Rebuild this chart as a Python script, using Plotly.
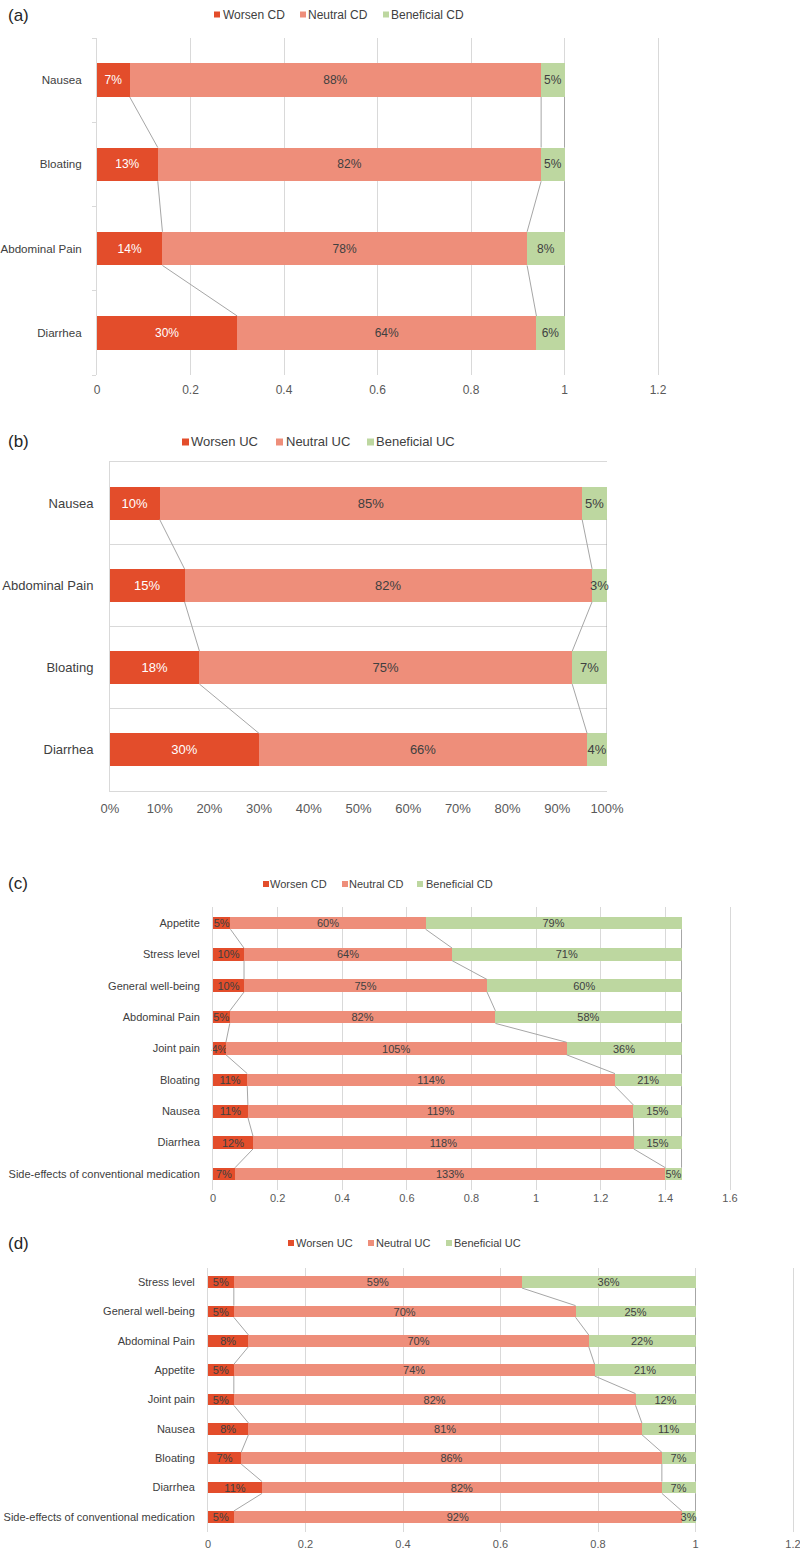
import plotly.graph_objects as go

W, H = 800, 1549
FONT = "Liberation Sans, Arial, sans-serif"
C_WORSE = "#E34D2B"
C_NEUT = "#EE8E7A"
C_BENE = "#BDD7A0"
GRID = "#D9D9D9"
SERIES_LINE = "#A6A6A6"
TXT = "#404040"
TICK = "#595959"

# ---------------- data ----------------
# (a) Crohn's disease – GI symptoms
catsA = ["Nausea", "Bloating", "Abdominal Pain", "Diarrhea"]
worsenA = [0.07, 0.13, 0.14, 0.30]
neutralA = [0.88, 0.82, 0.78, 0.64]
benefA = [0.05, 0.05, 0.08, 0.06]

# (b) Ulcerative colitis – GI symptoms
catsB = ["Nausea", "Abdominal Pain", "Bloating", "Diarrhea"]
worsenB = [0.10, 0.15, 0.18, 0.30]
neutralB = [0.85, 0.82, 0.75, 0.66]
benefB = [0.05, 0.03, 0.07, 0.04]

# (c) Crohn's disease – all items
catsC = ["Appetite", "Stress level", "General well-being", "Abdominal Pain",
         "Joint pain", "Bloating", "Nausea", "Diarrhea",
         "Side-effects of conventional medication"]
worsenC = [0.054, 0.096, 0.096, 0.052, 0.040, 0.106, 0.108, 0.124, 0.068]
neutralC = [0.604, 0.644, 0.752, 0.822, 1.054, 1.138, 1.193, 1.178, 1.332]
benefC = [0.792, 0.710, 0.602, 0.576, 0.356, 0.206, 0.149, 0.148, 0.050]

# (d) Ulcerative colitis – all items
catsD = ["Stress level", "General well-being", "Abdominal Pain", "Appetite",
         "Joint pain", "Nausea", "Bloating", "Diarrhea",
         "Side-effects of conventional medication"]
worsenD = [0.053, 0.053, 0.083, 0.053, 0.053, 0.083, 0.068, 0.111, 0.053]
neutralD = [0.591, 0.701, 0.698, 0.740, 0.824, 0.807, 0.863, 0.820, 0.919]
benefD = [0.356, 0.246, 0.219, 0.207, 0.123, 0.110, 0.069, 0.069, 0.028]

namesCD = ["Worsen CD", "Neutral CD", "Beneficial CD"]
namesUC = ["Worsen UC", "Neutral UC", "Beneficial UC"]


def pxx(p):
    return p / W


def pxy(p):
    return 1 - p / H


panels = [
    dict(tag="(a)", cats=catsA, vals=[worsenA, neutralA, benefA], names=namesCD,
         xdom=(97, 658), ydom=(38, 375), xrange=(0, 1.2), dtick=0.2, fmt="",
         font=12, catfont=11.6, worse_txt="white", title_y=15,
         leg_y=14.5, leg_m=[214, 300, 383], leg_t=[223, 308, 391], msize=6,
         xstand=6, ystand=12, style="a"),
    dict(tag="(b)", cats=catsB, vals=[worsenB, neutralB, benefB], names=namesUC,
         xdom=(110, 607), ydom=(462, 791), xrange=(0, 1.0), dtick=0.1, fmt=".0%",
         font=13, catfont=13, worse_txt="white", title_y=441,
         leg_y=442, leg_m=[182, 276, 367], leg_t=[191, 285.5, 376], msize=7,
         xstand=5, ystand=13, style="b"),
    dict(tag="(c)", cats=catsC, vals=[worsenC, neutralC, benefC], names=namesCD,
         xdom=(213, 730), ydom=(907.3, 1189.7), xrange=(0, 1.6), dtick=0.2, fmt="",
         font=11, catfont=11, worse_txt=TXT, title_y=884,
         leg_y=884, leg_m=[263, 342, 417], leg_t=[270, 349, 426], msize=6,
         xstand=0, ystand=10, style="c"),
    dict(tag="(d)", cats=catsD, vals=[worsenD, neutralD, benefD], names=namesUC,
         xdom=(208, 793), ydom=(1267.5, 1531.5), xrange=(0, 1.2), dtick=0.2, fmt="",
         font=11, catfont=11, worse_txt=TXT, title_y=1243,
         leg_y=1243, leg_m=[288, 368, 446], leg_t=[296, 376, 454], msize=6,
         xstand=4, ystand=10, style="c"),
]

colors = [C_WORSE, C_NEUT, C_BENE]

fig = go.Figure()
layout = dict(
    width=W, height=H, margin=dict(l=0, r=0, t=0, b=0, autoexpand=False),
    paper_bgcolor="white", plot_bgcolor="white", barmode="stack",
    showlegend=False, font=dict(family=FONT, color=TXT),
)
shapes = []
annotations = []

for k, p in enumerate(panels):
    suf = "" if k == 0 else str(k + 1)
    xa, ya = "x" + suf, "y" + suf
    n = len(p["cats"])
    idx = list(range(n))

    # stacked bars
    for s in range(3):
        tcol = p["worse_txt"] if s == 0 else TXT
        fig.add_trace(go.Bar(
            y=idx, x=p["vals"][s], orientation="h", width=0.4,
            name=p["names"][s], marker=dict(color=colors[s], line=dict(width=0)),
            texttemplate="%{x:.0%}", textposition="inside",
            insidetextanchor="middle", textangle=0, constraintext="none",
            textfont=dict(family=FONT, size=p["font"], color=tcol),
            cliponaxis=False, xaxis=xa, yaxis=ya, hoverinfo="x+name",
        ))

    # series lines (connect segment ends between consecutive bars)
    cum = [0.0] * n
    for s in range(3):
        cum = [c + v for c, v in zip(cum, p["vals"][s])]
        xs, ys = [], []
        for i in range(n - 1):
            xs += [cum[i], cum[i + 1], None]
            ys += [i + 0.2, i + 0.8, None]
        fig.add_trace(go.Scatter(
            x=xs, y=ys, mode="lines", line=dict(color=SERIES_LINE, width=1),
            cliponaxis=False, xaxis=xa, yaxis=ya, hoverinfo="skip",
            showlegend=False,
        ))

    # axes
    xdom = [pxx(p["xdom"][0]), pxx(p["xdom"][1])]
    ydom = [pxy(p["ydom"][1]), pxy(p["ydom"][0])]
    xaxis = dict(
        domain=xdom, range=list(p["xrange"]), tick0=0, dtick=p["dtick"],
        tickformat=p["fmt"], zeroline=False, ticks="", anchor=ya,
        tickfont=dict(family=FONT, size=p["font"], color=TICK),
        ticklabelstandoff=p["xstand"], ticklabeloverflow="allow",
        fixedrange=True, automargin=False,
    )
    yaxis = dict(
        domain=ydom, range=[n - 0.5, -0.5], tickmode="array", tickvals=idx,
        ticktext=p["cats"], zeroline=False, showgrid=False, ticks="",
        anchor=xa, tickfont=dict(family=FONT, size=p["catfont"], color=TXT),
        ticklabelstandoff=p["ystand"], ticklabeloverflow="allow",
        showline=True, linecolor=GRID, linewidth=1, fixedrange=True,
        automargin=False,
    )
    if p["style"] == "a":
        xaxis.update(showgrid=True, gridcolor=GRID, gridwidth=1, showline=False)
        yaxis.update(mirror=True, minor=dict(
            tickmode="array", tickvals=[i - 0.5 for i in range(n + 1)],
            ticks="outside", ticklen=4, tickcolor=GRID, showgrid=False))
    elif p["style"] == "b":
        xaxis.update(showgrid=False, showline=True, mirror=True, linecolor=GRID,
                     linewidth=1)
        yaxis.update(mirror=False, minor=dict(
            tickmode="array", tickvals=[i + 0.5 for i in range(n - 1)],
            ticks="", showgrid=True, gridcolor=GRID, gridwidth=1))
    else:
        xaxis.update(showgrid=True, gridcolor=GRID, gridwidth=1, showline=False)
        yaxis.update(mirror=True)
    layout["xaxis" + suf] = xaxis
    layout["yaxis" + suf] = yaxis

    # panel tag
    annotations.append(dict(
        text=p["tag"], x=pxx(8), y=pxy(p["title_y"]), xref="paper", yref="paper",
        xanchor="left", yanchor="middle", showarrow=False, borderpad=0,
        borderwidth=0, font=dict(family=FONT, size=17, color="#262626"),
    ))

    # legend (small squares + labels)
    ms = p["msize"]
    for s in range(3):
        mx = p["leg_m"][s]
        shapes.append(dict(
            type="rect", xref="paper", yref="paper",
            x0=pxx(mx), x1=pxx(mx + ms),
            y0=pxy(p["leg_y"] + ms / 2), y1=pxy(p["leg_y"] - ms / 2),
            fillcolor=colors[s], line=dict(width=0),
        ))
        annotations.append(dict(
            text=p["names"][s], x=pxx(p["leg_t"][s]), y=pxy(p["leg_y"]),
            xref="paper", yref="paper", xanchor="left", yanchor="middle",
            showarrow=False, borderpad=0, borderwidth=0,
            font=dict(family=FONT, size=p["font"], color=TXT),
        ))

layout["shapes"] = shapes
layout["annotations"] = annotations
fig.update_layout(**layout)

fig.write_html(
    "out.html",
    config={"displayModeBar": False, "staticPlot": False},
    post_script="document.body.style.margin='0px';document.body.style.padding='0px';",
)
